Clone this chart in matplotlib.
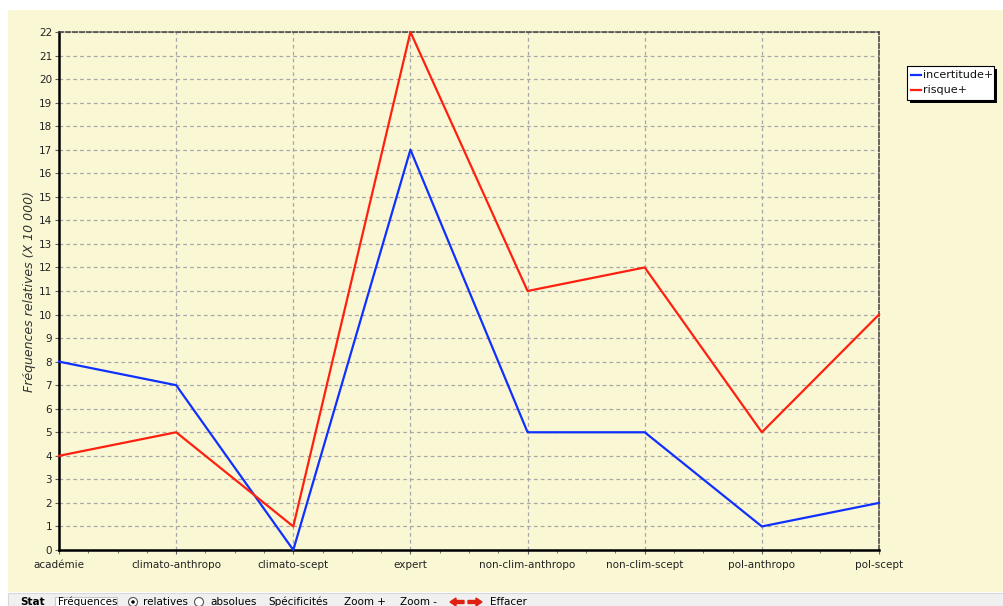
import matplotlib
matplotlib.use("Agg")
import matplotlib.pyplot as plt
from matplotlib.patches import Rectangle, Ellipse, FancyArrow
from matplotlib.ticker import MultipleLocator

categories = ["académie", "climato-anthropo", "climato-scept", "expert",
              "non-clim-anthropo", "non-clim-scept", "pol-anthropo", "pol-scept"]
incertitude = [8, 7, 0, 17, 5, 5, 1, 2]
risque = [4, 5, 1, 22, 11, 12, 5, 10]
y_ticks = list(range(0, 23))

W, H = 1004, 606
fig = plt.figure(figsize=(W / 100, H / 100), dpi=100)
fig.patch.set_facecolor("white")
bg = "#FAF8D4"
# yellow panel
fig.patches.append(Rectangle((8 / W, (H - 592) / H), (W - 8) / W, (592 - 10) / H,
                             transform=fig.transFigure, facecolor=bg, edgecolor="none", zorder=-2))
# toolbar
fig.patches.append(Rectangle((8 / W, 0), (W - 8) / W, (H - 593) / H,
                             transform=fig.transFigure, facecolor="#F0F0F0", edgecolor="#D8D8D8", lw=0.8, zorder=-2))
fig.patches.append(Rectangle((55 / W, 0), 62 / W, (H - 597) / H,
                             transform=fig.transFigure, facecolor="white", edgecolor="#C8C8C8", lw=0.8, zorder=-1))

x0, x1, y0, y1 = 59, 879, 32, 550
ax = fig.add_axes([x0 / W, (H - y1) / H, (x1 - x0) / W, (y1 - y0) / H])
ax.set_facecolor(bg)
xs = list(range(len(categories)))
ax.plot(xs, incertitude, color="#1030FF", lw=1.6, label="incertitude+", zorder=3, clip_on=False)
ax.plot(xs, risque, color="#FF2010", lw=1.6, label="risque+", zorder=3, clip_on=False)
ax.set_xlim(0, len(categories) - 1)
ax.set_ylim(0, 22)
ax.set_yticks(y_ticks)
ax.set_xticks(xs)
ax.set_xticklabels(categories)
ax.xaxis.set_minor_locator(MultipleLocator(0.25))
ax.tick_params(axis="both", which="major", labelsize=7.5, length=3, color="#606060", labelcolor="#222222")
ax.tick_params(axis="x", which="major", pad=4)
ax.tick_params(axis="x", which="minor", length=2, color="#606060")
ax.tick_params(axis="y", pad=2)
ax.grid(True, which="major", color="#A8A8A8", linestyle=(0, (3, 2.5)), lw=0.9)
ax.set_axisbelow(True)
ax.spines["left"].set_color("black")
ax.spines["left"].set_linewidth(1.8)
ax.spines["bottom"].set_color("black")
ax.spines["bottom"].set_linewidth(1.8)
ax.spines["bottom"].set_linestyle((0, (2, 1)))
for s in ("top", "right"):
    ax.spines[s].set_color("#404040")
    ax.spines[s].set_linewidth(1.1)
    ax.spines[s].set_linestyle((0, (3, 1.5)))
ax.set_ylabel("Fréquences relatives (X 10 000)", fontsize=9, style="italic", color="#333333", labelpad=2)

# legend box
lx0, ly0, lw_, lh = 907, 66, 87, 34
fig.patches.append(Rectangle(((lx0 + 3) / W, (H - ly0 - lh - 3) / H), lw_ / W, lh / H,
                             transform=fig.transFigure, facecolor="black", edgecolor="none", zorder=5))
fig.patches.append(Rectangle((lx0 / W, (H - ly0 - lh) / H), lw_ / W, lh / H,
                             transform=fig.transFigure, facecolor="white", edgecolor="black", lw=0.8, zorder=6))
for i, (lab, col) in enumerate([("incertitude+", "#1030FF"), ("risque+", "#FF2010")]):
    yy = (H - (ly0 + 9 + i * 15)) / H
    fig.add_artist(plt.Line2D([(lx0 + 4) / W, (lx0 + 14) / W], [yy, yy], color=col, lw=1.6,
                              transform=fig.transFigure, zorder=7))
    fig.text((lx0 + 16) / W, yy, lab, fontsize=8, va="center", ha="left", color="#111111", zorder=7)

# toolbar texts
ty = (H - 602) / H
fig.text(20 / W, ty, "Stat", fontsize=7.5, fontweight="bold", va="center")
fig.text(58 / W, ty, "Fréquences", fontsize=7.5, va="center")
fig.patches.append(Ellipse((133 / W, ty), 9 / W, 9 / H, transform=fig.transFigure, facecolor="white", edgecolor="#555555", lw=0.8, zorder=2))
fig.patches.append(Ellipse((133 / W, ty), 3.5 / W, 3.5 / H, transform=fig.transFigure, facecolor="black", edgecolor="none", zorder=3))
fig.text(143 / W, ty, "relatives", fontsize=7.5, va="center")
fig.patches.append(Ellipse((199 / W, ty), 9 / W, 9 / H, transform=fig.transFigure, facecolor="white", edgecolor="#555555", lw=0.8, zorder=2))
fig.text(210 / W, ty, "absolues", fontsize=7.5, va="center")
fig.text(268 / W, ty, "Spécificités", fontsize=7.5, va="center")
fig.text(344 / W, ty, "Zoom +", fontsize=7.5, va="center")
fig.text(400 / W, ty, "Zoom -", fontsize=7.5, va="center")
fig.patches.append(FancyArrow(464 / W, ty, -14 / W, 0, width=3 / H, head_width=8 / H, head_length=6 / W,
                              length_includes_head=True, transform=fig.transFigure, color="#E02010", zorder=3))
fig.patches.append(FancyArrow(468 / W, ty, 14 / W, 0, width=3 / H, head_width=8 / H, head_length=6 / W,
                              length_includes_head=True, transform=fig.transFigure, color="#E02010", zorder=3))
fig.text(490 / W, ty, "Effacer", fontsize=7.5, va="center")

fig.savefig("out.png", dpi=100, facecolor=fig.get_facecolor())
